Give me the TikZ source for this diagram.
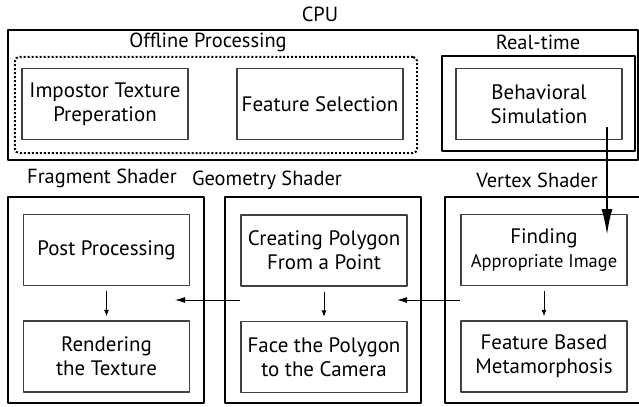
\documentclass[tikz,border=0pt]{standalone}
\usepackage{fontspec}
\setmainfont{PT Sans}
\usetikzlibrary{arrows.meta}
\tikzset{
  outerbox/.style={draw,line width=2bp,minimum width=#1,inner sep=0pt},
  innerbox/.style={draw=black!75,line width=1.3bp,minimum width=166bp,minimum height=71bp,align=center,inner sep=0pt,font=\fontsize{21}{24}\selectfont},
  title/.style={font=\fontsize{20.5}{23}\selectfont,inner sep=0pt},
}
\begin{document}
\begin{tikzpicture}[x=1bp,y=1bp,>=Latex,line join=bevel,]
%%
\useasboundingbox (0,0) rectangle (639,406);
% cpu part
\node (cpu) at (323,311) [outerbox=630bp,minimum height=130bp] {};
\node (cpu_lbl) at (320,392) [title] {CPU};
\node (offline) at (216,301) [draw,line width=2bp,dotted,rounded corners=4bp,minimum width=402bp,minimum height=96bp,inner sep=0pt] {};
\node (offline_lbl) at (208,364) [title] {Offline Processing};
\node (realtime) at (538.5,302.5) [outerbox=193bp,minimum height=95bp] {};
\node (realtime_lbl) at (538,364) [title] {Real-time};
\node (impostor) at (105,302) [innerbox] {Impostor Texture\\Preperation};
\node (featsel) at (320,302) [innerbox] {Feature Selection};
\node (behav) at (539,302) [innerbox] {Behavioral\\Simulation};
% shaders
\node (fragment) at (106,106) [outerbox=196bp,minimum height=206bp] {};
\node (fragment_lbl) at (102,228) [title] {Fragment Shader};
\node (geometry) at (323,106) [outerbox=196bp,minimum height=206bp] {};
\node (geometry_lbl) at (267,226) [title] {Geometry Shader};
\node (vertex) at (545,106) [outerbox=200bp,minimum height=206bp] {};
\node (vertex_lbl) at (537,226) [title] {Vertex Shader};
\node (post) at (106.5,156) [innerbox] {Post Processing};
\node (render) at (106.5,49.5) [innerbox] {Rendering\\the Texture};
\node (creating) at (324,155.5) [innerbox] {Creating Polygon\\From a Point};
\node (face) at (324,49) [innerbox] {Face the Polygon\\to the Camera};
\node (finding) at (544,156) [innerbox] {Finding\\{\fontsize{18.5}{20}\selectfont Appropriate Image}};
\node (featbased) at (544,49.5) [innerbox] {Feature Based\\Metamorphosis};
%
\coordinate (behav_out) at (607,279);
\coordinate (finding_in) at (607,171);
\coordinate (vertex_out) at (460,106);
\coordinate (geometry_in) at (397,106);
\coordinate (geometry_out) at (240,106);
\coordinate (fragment_in) at (175,106);
\draw [black,line width=2bp,-{Latex[length=26bp,width=11bp]}] (behav_out) -- (finding_in);
\draw [black,line width=1bp,-{Latex[length=10bp,width=6bp]}] (vertex_out) -- (geometry_in);
\draw [black,line width=1bp,-{Latex[length=10bp,width=6bp]}] (geometry_out) -- (fragment_in);
\draw [black,line width=0.8bp,->,shorten <=5bp,shorten >=4bp] (post) -- (render);
\draw [black,line width=0.8bp,->,shorten <=5bp,shorten >=4bp] (creating) -- (face);
\draw [black,line width=0.8bp,->,shorten <=5bp,shorten >=4bp] (finding) -- (featbased);
%
\end{tikzpicture}
\end{document}
